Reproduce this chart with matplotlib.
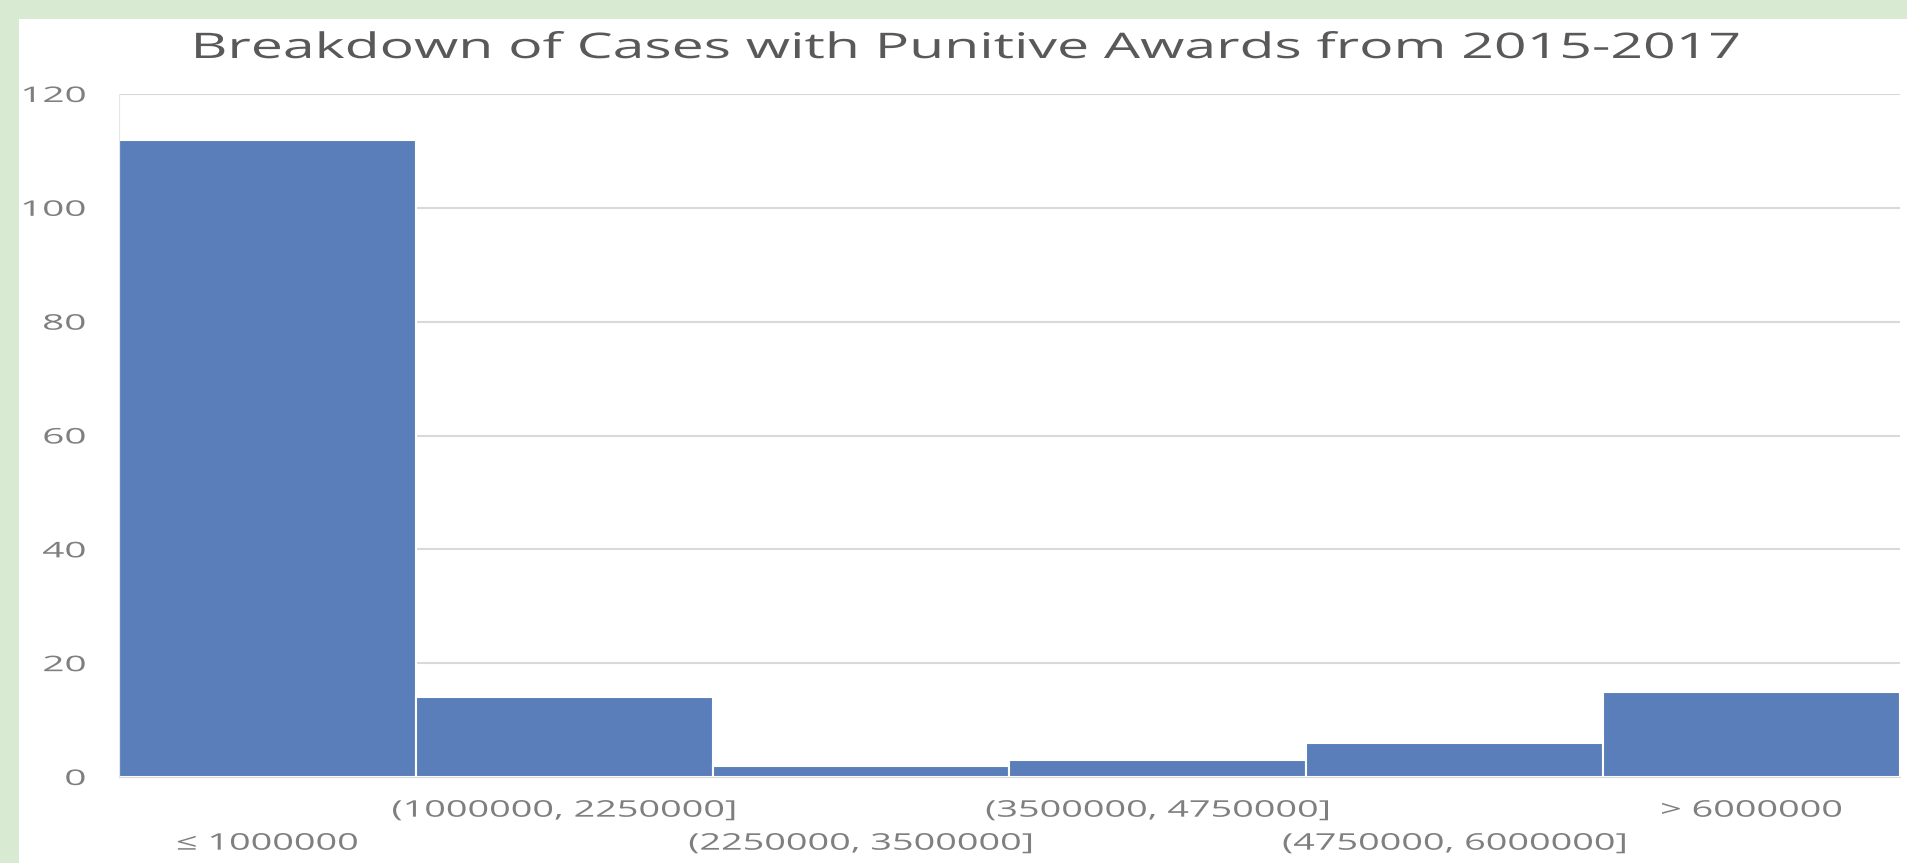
import matplotlib
matplotlib.use('Agg')  # no UI backend

import numpy as np
import matplotlib.pyplot as plt
from matplotlib.patches import Rectangle
from matplotlib.patheffects import AbstractPathEffect
from matplotlib.transforms import Affine2D, ScaledTranslation

# award brackets (USD) and number of cases in each
bins = ['≤ 1000000', '(1000000, 2250000]', '(2250000, 3500000]',
        '(3500000, 4750000]', '(4750000, 6000000]', '> 6000000']
counts = [112, 14, 2, 3, 6, 15]
y_ticks = [0, 20, 40, 60, 80, 100, 120]
title = 'Breakdown of Cases with Punitive Awards from 2015-2017'


class WideText(AbstractPathEffect):
    """Draw glyphs widened horizontally, pinned at the left/right edge or the middle."""

    def __init__(self, sx, anchor='center'):
        super().__init__()
        self.sx = sx
        self.anchor = anchor

    def draw_path(self, renderer, gc, tpath, affine, rgbFace=None):
        ext = tpath.get_extents(affine)
        if self.anchor == 'right':
            x0 = ext.x1
        elif self.anchor == 'left':
            x0 = ext.x0
        else:
            x0 = 0.5 * (ext.x0 + ext.x1)
        stretch = Affine2D().translate(-x0, 0).scale(self.sx, 1).translate(x0, 0)
        renderer.draw_path(gc, tpath, affine + stretch, rgbFace)


plt.rcParams['font.family'] = ['Open Sans', 'DejaVu Sans']

green = '#d9ead3'
blue = '#5a7eb9'
grid_gray = '#d9d9d9'
label_gray = '#7f7f7f'
title_gray = '#595959'

W, H = 1908, 863
fig = plt.figure(figsize=(W / 100, H / 100), dpi=100)
fig.patch.set_facecolor(green)
fig.patches.append(Rectangle((19 / W, 0), 1, 1 - 19 / H, transform=fig.transFigure,
                             facecolor='white', edgecolor='none', zorder=-1))

ax = fig.add_axes([119 / W, 1 - 777 / H, (1900 - 119) / W, (777 - 94) / H])
x = np.arange(len(bins))
ax.bar(x, counts, width=1.0, color=blue, edgecolor='white', linewidth=1.5, zorder=2)

ax.set_xlim(-0.5, len(bins) - 0.5)
ax.set_ylim(0, 120)
ax.set_yticks(y_ticks)
ax.set_xticks(x, bins)
ax.yaxis.grid(True, color=grid_gray, linewidth=1.5)
ax.set_axisbelow(True)

for side in ('top', 'right'):
    ax.spines[side].set_visible(False)
ax.spines['left'].set_color('#e6e6e6')
ax.spines['bottom'].set_color(grid_gray)

ax.tick_params(axis='x', length=0, pad=15.6, labelsize=16.5, labelcolor=label_gray)
ax.tick_params(axis='y', length=0, pad=24, labelsize=15.5, labelcolor=label_gray)

for lbl in ax.get_yticklabels():
    lbl.set_path_effects([WideText(1.8, 'right')])

# staggered category labels: every other one drops to a second row
for i, lbl in enumerate(ax.get_xticklabels()):
    lbl.set_path_effects([WideText(1.65)])
    if i % 2 == 0:
        lbl.set_transform(lbl.get_transform() + ScaledTranslation(0, -0.33, fig.dpi_scale_trans))

fig.text(966 / W, 1 - 58 / H, title, ha='center', va='baseline', fontsize=25.4,
         color=title_gray, path_effects=[WideText(1.62)])

fig.savefig('out.png', dpi=100, facecolor=fig.get_facecolor())
